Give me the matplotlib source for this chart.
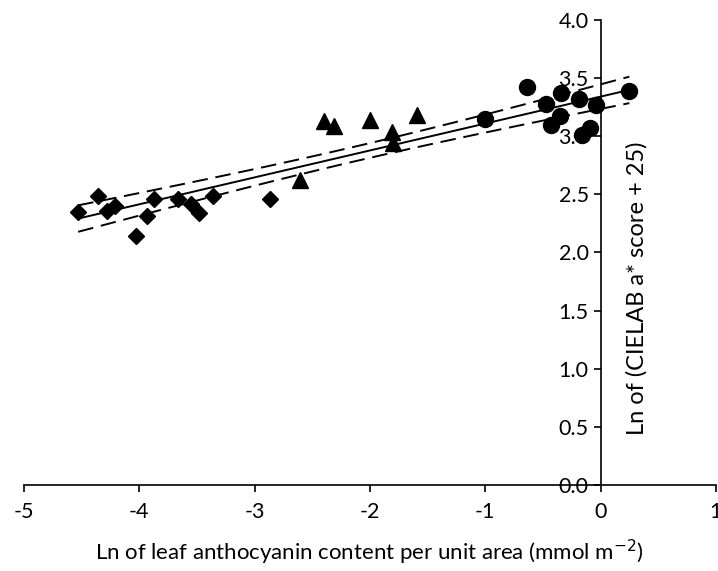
import numpy as np
import matplotlib.pyplot as plt

plt.rcParams['font.family'] = ['Lato', 'DejaVu Sans']

# Diamonds
dia_x = [-4.53, -4.36, -4.28, -4.21, -4.03, -3.93, -3.87, -3.66, -3.55, -3.48, -3.36, -2.87]
dia_y = [2.35, 2.49, 2.36, 2.40, 2.14, 2.31, 2.46, 2.46, 2.42, 2.34, 2.49, 2.46]

# Triangles
tri_x = [-2.61, -2.40, -2.31, -2.00, -1.81, -1.80, -1.59]
tri_y = [2.62, 3.13, 3.09, 3.14, 3.04, 2.94, 3.18]

# Circles
cir_x = [-1.00, -0.64, -0.47, -0.34, -0.43, -0.355, -0.19, -0.16, -0.095, -0.04, 0.25]
cir_y = [3.15, 3.42, 3.28, 3.37, 3.10, 3.175, 3.32, 3.01, 3.07, 3.27, 3.39]

# Regression with 95% confidence band on the mean
x_all = np.array(dia_x + tri_x + cir_x)
y_all = np.array(dia_y + tri_y + cir_y)
n = len(x_all)
slope, intercept = np.polyfit(x_all, y_all, 1)
resid = y_all - (slope * x_all + intercept)
s = np.sqrt(np.sum(resid ** 2) / (n - 2))
sxx = np.sum((x_all - x_all.mean()) ** 2)
t_val = 2.04
xf = np.linspace(x_all.min(), x_all.max(), 100)
yf = slope * xf + intercept
half = t_val * s * np.sqrt(1 / n + (xf - x_all.mean()) ** 2 / sxx)

fig = plt.figure(figsize=(7.18, 5.71), dpi=100)
ax = fig.add_axes([0.0334, 0.1506, 0.9636, 0.8144])

ax.plot(xf, yf, color='black', lw=1.4)
ax.plot(xf, yf + half, color='black', lw=1.4, dashes=(8, 4))
ax.plot(xf, yf - half, color='black', lw=1.4, dashes=(8, 4))

ax.plot(dia_x, dia_y, 'D', color='black', markersize=8.5, linestyle='none')
ax.plot(tri_x, tri_y, '^', color='black', markersize=11.5, linestyle='none')
ax.plot(cir_x, cir_y, 'o', color='black', markersize=11.5, linestyle='none')

ax.set_xlim(-5, 1)
ax.set_ylim(0, 4)
ax.set_xticks([-5, -4, -3, -2, -1, 0, 1])
ax.set_xticklabels(['-5', '-4', '-3', '-2', '-1', '0', '1'])
ax.set_yticks(np.arange(0, 4.01, 0.5))
ax.set_yticklabels([f'{v:.1f}' for v in np.arange(0, 4.01, 0.5)])

ax.spines['top'].set_visible(False)
ax.spines['right'].set_visible(False)
ax.spines['left'].set_position(('data', 0))
ax.spines['left'].set_linewidth(1.2)
ax.spines['bottom'].set_linewidth(1.2)
ax.tick_params(axis='both', labelsize=15.5, length=5, width=1.2, direction='out')
ax.tick_params(axis='x', pad=7)

fig.text(0.515, 0.033, 'Ln of leaf anthocyanin content per unit area (mmol m$^{-2}$)',
         fontsize=16, ha='center', va='center')
fig.text(0.887, 0.496, 'Ln of (CIELAB a* score + 25)', rotation=90, fontsize=17,
         ha='center', va='center')

fig.savefig('out.png', dpi=100)
